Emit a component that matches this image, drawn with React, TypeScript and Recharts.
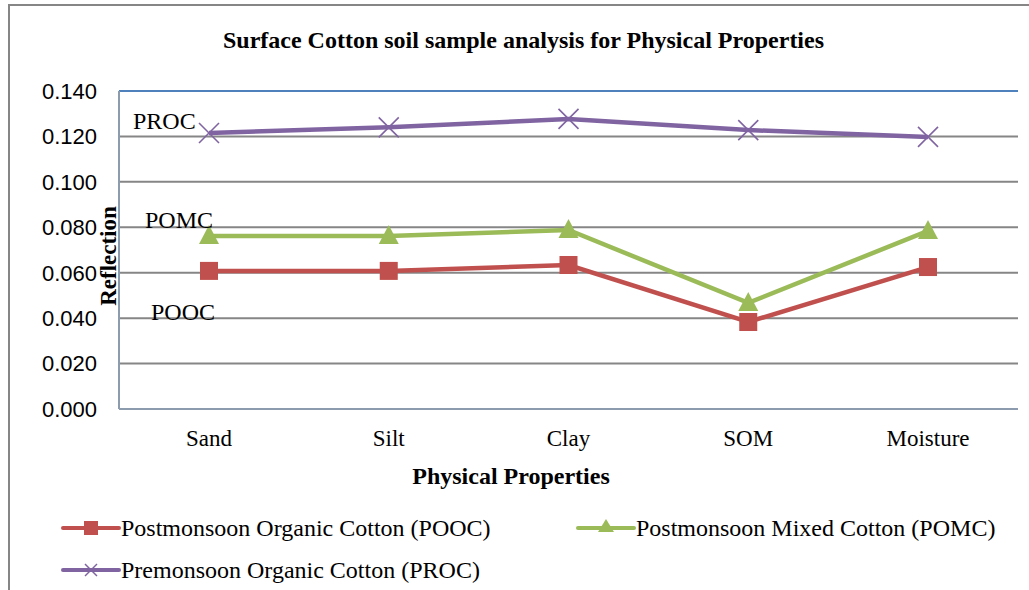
import React from "react";
import {
  CartesianGrid,
  Line,
  LineChart,
  ReferenceLine,
  XAxis,
  YAxis,
} from "recharts";

const categories = ["Sand", "Silt", "Clay", "SOM", "Moisture"];
const pooc = [0.0608, 0.0608, 0.0634, 0.0383, 0.0625];
const pomc = [0.0762, 0.0762, 0.0788, 0.0467, 0.0784];
const proc = [0.1215, 0.124, 0.1277, 0.1228, 0.1198];
const yTicks = [0, 0.02, 0.04, 0.06, 0.08, 0.1, 0.12, 0.14];

const RED = "#C0504D";
const GREEN = "#9BBB59";
const PURPLE = "#8064A2";
const SERIF = "'Liberation Serif', 'Times New Roman', serif";
const SANS = "'Liberation Sans', Arial, sans-serif";

const data = categories.map((name, i) => ({
  name,
  pooc: pooc[i],
  pomc: pomc[i],
  proc: proc[i],
}));

const SquareDot = (props: any) => {
  const { cx, cy } = props;
  if (cx == null || cy == null) return null;
  return <rect x={cx - 9} y={cy - 9} width={18} height={18} fill={RED} />;
};

const TriangleDot = (props: any) => {
  const { cx, cy } = props;
  if (cx == null || cy == null) return null;
  return (
    <polygon
      points={`${cx},${cy - 11} ${cx + 10},${cy + 8} ${cx - 10},${cy + 8}`}
      fill={GREEN}
    />
  );
};

const CrossDot = (props: any) => {
  const { cx, cy } = props;
  if (cx == null || cy == null) return null;
  return (
    <g stroke={PURPLE} strokeWidth={1.6}>
      <line x1={cx - 10} y1={cy - 10} x2={cx + 10} y2={cy + 10} />
      <line x1={cx - 10} y1={cy + 10} x2={cx + 10} y2={cy - 10} />
    </g>
  );
};

function LegendItem({
  x,
  y,
  color,
  marker,
  label,
}: {
  x: number;
  y: number;
  color: string;
  marker: "square" | "triangle" | "cross";
  label: string;
}) {
  return (
    <div style={{ position: "absolute", left: x, top: y, display: "flex", alignItems: "center", height: 24 }}>
      <svg width={60} height={24}>
        <line x1={2} y1={12} x2={58} y2={12} stroke={color} strokeWidth={4} strokeLinecap="round" />
        {marker === "square" && <rect x={23} y={5} width={14} height={14} fill={color} />}
        {marker === "triangle" && <polygon points="30,3 38,16 22,16" fill={color} />}
        {marker === "cross" && (
          <g stroke={color} strokeWidth={1.5}>
            <line x1={24} y1={6} x2={36} y2={18} />
            <line x1={24} y1={18} x2={36} y2={6} />
          </g>
        )}
      </svg>
      <span style={{ fontFamily: SERIF, fontSize: 24, color: "#000", lineHeight: 1, whiteSpace: "nowrap" }}>{label}</span>
    </div>
  );
}

const textStyle: React.CSSProperties = {
  position: "absolute",
  fontFamily: SERIF,
  color: "#000",
  whiteSpace: "nowrap",
  lineHeight: 1,
};

export default function App() {
  return (
    <div
      style={{
        position: "absolute",
        left: 0,
        top: 0,
        width: 1029,
        height: 590,
        background: "#fff",
        overflow: "hidden",
      }}
    >
      <div
        style={{
          position: "absolute",
          left: 8,
          top: 4,
          width: 1100,
          height: 700,
          border: "2px solid #868686",
          boxSizing: "border-box",
        }}
      />
      <div style={{ position: "absolute", left: 0, top: 0 }}>
        <LineChart
          width={1029}
          height={590}
          data={data}
          margin={{ top: 91, right: 11, bottom: 0, left: 0 }}
        >
          <CartesianGrid vertical={false} stroke="#868686" strokeWidth={2} />
          <XAxis
            dataKey="name"
            height={181}
            padding={{ left: 90, right: 90 }}
            tickLine={false}
            tickSize={0}
            tickMargin={21}
            axisLine={{ stroke: "#8C9BAE", strokeWidth: 2 }}
            tick={{ fontFamily: SERIF, fontSize: 23, fill: "#000" }}
            interval={0}
          />
          <YAxis
            width={119}
            domain={[0, 0.14]}
            ticks={yTicks}
            tickFormatter={(v: number) => v.toFixed(3)}
            tickLine={false}
            tickSize={0}
            tickMargin={22}
            axisLine={{ stroke: "#8C9BAE", strokeWidth: 2 }}
            tick={{ fontFamily: SANS, fontSize: 22, fill: "#000" }}
            allowDataOverflow
          />
          <YAxis
            yAxisId="right"
            orientation="right"
            width={0}
            domain={[0, 0.14]}
            tick={false}
            tickLine={false}
            axisLine={{ stroke: "#4F81BD", strokeWidth: 2 }}
          />
          <ReferenceLine y={0.14} stroke="#4F81BD" strokeWidth={2} />
          <Line
            dataKey="pomc"
            name="Postmonsoon Mixed Cotton (POMC)"
            stroke={GREEN}
            strokeWidth={4.5}
            dot={<TriangleDot />}
            activeDot={false}
            isAnimationActive={false}
          />
          <Line
            dataKey="pooc"
            name="Postmonsoon Organic Cotton (POOC)"
            stroke={RED}
            strokeWidth={4.5}
            dot={<SquareDot />}
            activeDot={false}
            isAnimationActive={false}
          />
          <Line
            dataKey="proc"
            name="Premonsoon Organic Cotton (PROC)"
            stroke={PURPLE}
            strokeWidth={4.5}
            dot={<CrossDot />}
            activeDot={false}
            isAnimationActive={false}
          />
        </LineChart>
      </div>

      <div style={{ ...textStyle, left: 0, width: 1029, top: 28, textAlign: "center", fontSize: 24, fontWeight: "bold", paddingLeft: 18, boxSizing: "border-box" }}>
        Surface Cotton soil sample analysis for Physical Properties
      </div>
      <div
        style={{
          ...textStyle,
          left: 108,
          top: 256,
          fontSize: 23,
          fontWeight: "bold",
          transform: "translate(-50%, -50%) rotate(-90deg)",
        }}
      >
        Reflection
      </div>
      <div style={{ ...textStyle, left: 511, top: 464, fontSize: 24, fontWeight: "bold", transform: "translateX(-50%)" }}>
        Physical Properties
      </div>

      <div style={{ ...textStyle, left: 133, top: 109, fontSize: 24 }}>PROC</div>
      <div style={{ ...textStyle, left: 145, top: 208, fontSize: 24 }}>POMC</div>
      <div style={{ ...textStyle, left: 151, top: 300, fontSize: 24 }}>POOC</div>

      <LegendItem x={61} y={516} color={RED} marker="square" label="Postmonsoon Organic Cotton (POOC)" />
      <LegendItem x={576} y={516} color={GREEN} marker="triangle" label="Postmonsoon Mixed Cotton (POMC)" />
      <LegendItem x={61} y={558} color={PURPLE} marker="cross" label="Premonsoon Organic Cotton (PROC)" />
    </div>
  );
}
